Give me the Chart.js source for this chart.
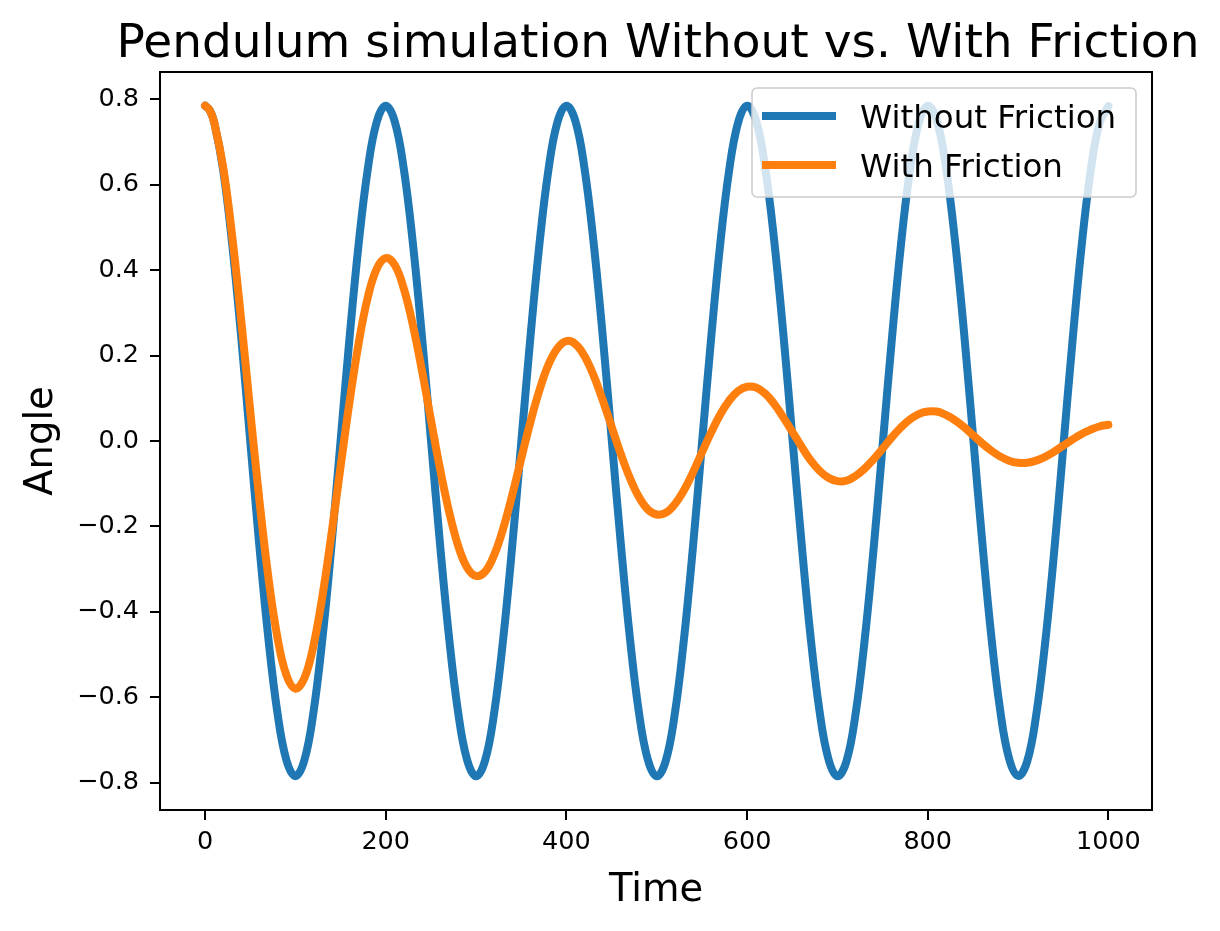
<!DOCTYPE html>
<html>
<head>
<meta charset="utf-8">
<script src="https://cdn.jsdelivr.net/npm/chart.js@4.4.1/dist/chart.umd.min.js"></script>
<style>
    html, body { margin: 0; padding: 0; background: #fff; }
    #wrap { width: 1220px; height: 931px; }
</style>
</head>
<body>
<div id="wrap"><canvas id="pendulum-chart"></canvas></div>
<script>
const chartTitle = 'Pendulum simulation Without vs. With Friction';
const xLabel = 'Time';
const yLabel = 'Angle';
const seriesNames = ['Without Friction', 'With Friction'];
const seriesColors = ['#1f77b4', '#ff7f0e'];

const xTicks = [0, 200, 400, 600, 800, 1000];
const yTicks = [-0.8, -0.6, -0.4, -0.2, 0.0, 0.2, 0.4, 0.6, 0.8];

const timeSteps = [
    0, 5, 10, 20, 30, 40, 50, 60, 70, 80, 90,
    100, 110, 120, 130, 140, 150, 160, 170, 180, 190,
    200, 210, 220, 230, 240, 250, 260, 270, 280, 290,
    300, 310, 320, 330, 340, 350, 360, 370, 380, 390,
    400, 410, 420, 430, 440, 450, 460, 470, 480, 490,
    500, 510, 520, 530, 540, 550, 560, 570, 580, 590,
    600, 610, 620, 630, 640, 650, 660, 670, 680, 690,
    700, 710, 720, 730, 740, 750, 760, 770, 780, 790,
    800, 810, 820, 830, 840, 850, 860, 870, 880, 890,
    900, 910, 920, 930, 940, 950, 960, 970, 980, 990,
    1000
];

const withoutFriction = [
    0.785, 0.775, 0.747, 0.635, 0.461, 0.243, 0.000, -0.243, -0.461, -0.635, -0.747,
    -0.785, -0.747, -0.635, -0.461, -0.243, 0.000, 0.243, 0.461, 0.635, 0.747,
    0.785, 0.748, 0.637, 0.464, 0.247, 0.004, -0.239, -0.458, -0.633, -0.746,
    -0.785, -0.748, -0.637, -0.464, -0.247, -0.004, 0.239, 0.458, 0.633, 0.746,
    0.785, 0.749, 0.639, 0.467, 0.251, 0.008, -0.235, -0.455, -0.631, -0.745,
    -0.785, -0.749, -0.639, -0.467, -0.251, -0.008, 0.235, 0.455, 0.631, 0.745,
    0.785, 0.750, 0.641, 0.470, 0.255, 0.012, -0.231, -0.452, -0.629, -0.744,
    -0.785, -0.750, -0.641, -0.470, -0.255, -0.012, 0.231, 0.452, 0.629, 0.744,
    0.785, 0.751, 0.643, 0.473, 0.259, 0.016, -0.227, -0.449, -0.627, -0.743,
    -0.784, -0.751, -0.643, -0.473, -0.259, -0.016, 0.227, 0.449, 0.627, 0.743,
    0.784
];

const withFriction = [
    0.785, 0.775, 0.747, 0.641, 0.480, 0.283, 0.070, -0.136, -0.318, -0.459, -0.548,
    -0.580, -0.555, -0.479, -0.362, -0.217, -0.060, 0.093, 0.229, 0.335, 0.403,
    0.428, 0.412, 0.357, 0.272, 0.166, 0.050, -0.064, -0.164, -0.244, -0.296,
    -0.316, -0.306, -0.267, -0.205, -0.127, -0.041, 0.043, 0.118, 0.178, 0.217,
    0.234, 0.227, 0.199, 0.154, 0.097, 0.034, -0.029, -0.085, -0.130, -0.160,
    -0.172, -0.168, -0.148, -0.116, -0.074, -0.027, 0.019, 0.061, 0.094, 0.117,
    0.127, 0.125, 0.111, 0.087, 0.056, 0.022, -0.012, -0.044, -0.069, -0.086,
    -0.094, -0.093, -0.082, -0.065, -0.043, -0.018, 0.008, 0.031, 0.050, 0.063,
    0.069, 0.069, 0.061, 0.049, 0.033, 0.014, -0.005, -0.022, -0.036, -0.046,
    -0.051, -0.051, -0.046, -0.037, -0.025, -0.011, 0.003, 0.016, 0.026, 0.034,
    0.038
];

// spines, legend box and the texts matplotlib style
const decorations = {
    id: 'decorations',
    afterDatasetsDraw(chart) {
        const ctx = chart.ctx;
        const a = chart.chartArea;
        ctx.save();
        ctx.strokeStyle = '#000';
        ctx.lineWidth = 2;
        ctx.strokeRect(a.left, a.top, a.right - a.left, a.bottom - a.top);

        // legend
        const lx = 752, ly = 88, lw = 384, lh = 109;
        ctx.beginPath();
        ctx.roundRect(lx, ly, lw, lh, 5);
        ctx.fillStyle = 'rgba(255,255,255,0.8)';
        ctx.fill();
        ctx.strokeStyle = '#cccccc';
        ctx.lineWidth = 1.5;
        ctx.stroke();

        ctx.font = '32.5px "DejaVu Sans"';
        ctx.textAlign = 'left';
        ctx.textBaseline = 'alphabetic';
        seriesNames.forEach((name, i) => {
            const y = 116 + i * 49;
            ctx.beginPath();
            ctx.moveTo(762, y);
            ctx.lineTo(836, y);
            ctx.strokeStyle = seriesColors[i];
            ctx.lineWidth = 8;
            ctx.lineCap = 'butt';
            ctx.stroke();
            ctx.fillStyle = '#000';
            ctx.fillText(name, 860, y + 12);
        });
        ctx.restore();
    },
    afterDraw(chart) {
        const ctx = chart.ctx;
        const a = chart.chartArea;
        ctx.save();
        ctx.fillStyle = '#000';
        ctx.textAlign = 'center';
        ctx.textBaseline = 'alphabetic';

        ctx.font = '47px "DejaVu Sans"';
        ctx.fillText(chartTitle, (a.left + a.right) / 2 + 2, 57);

        ctx.font = '38.5px "DejaVu Sans"';
        ctx.fillText(xLabel, (a.left + a.right) / 2, 901);

        ctx.translate(52, (a.top + a.bottom) / 2);
        ctx.rotate(-Math.PI / 2);
        ctx.fillText(yLabel, 0, 0);
        ctx.restore();
    }
};

function tickFont() {
    return { family: 'DejaVu Sans', size: 25.5 };
}

const ctx = document.getElementById('pendulum-chart').getContext('2d');

new Chart(ctx, {
    type: 'line',
    data: {
        datasets: [
            {
                label: seriesNames[0],
                data: timeSteps.map((t, i) => ({ x: t, y: withoutFriction[i] })),
                borderColor: seriesColors[0],
                borderWidth: 8,
                order: 1
            },
            {
                label: seriesNames[1],
                data: timeSteps.map((t, i) => ({ x: t, y: withFriction[i] })),
                borderColor: seriesColors[1],
                borderWidth: 8,
                order: 0
            }
        ]
    },
    options: {
        responsive: true,
        maintainAspectRatio: false,
        animation: false,
        elements: {
            point: { radius: 0, hoverRadius: 0 },
            line: { tension: 0.4, borderCapStyle: 'round', borderJoinStyle: 'round', fill: false }
        },
        layout: {
            padding: { top: 72, right: 68, left: 0, bottom: 0 }
        },
        plugins: {
            legend: { display: false },
            title: { display: false },
            tooltip: { enabled: false }
        },
        scales: {
            x: {
                type: 'linear',
                min: -49.9,
                max: 1048.3,
                afterBuildTicks: (scale) => {
                    scale.ticks = xTicks.map(v => ({ value: v }));
                },
                afterFit: (scale) => {
                    scale.height = 121;
                },
                ticks: {
                    font: tickFont(),
                    color: '#000',
                    padding: 7,
                    maxRotation: 0,
                    autoSkip: false,
                    callback: (value) => String(value)
                },
                grid: {
                    drawOnChartArea: false,
                    drawTicks: true,
                    tickLength: 10,
                    color: '#000',
                    lineWidth: 2
                },
                border: { display: false }
            },
            y: {
                type: 'linear',
                min: -0.864,
                max: 0.864,
                afterBuildTicks: (scale) => {
                    scale.ticks = yTicks.map(v => ({ value: v }));
                },
                afterFit: (scale) => {
                    scale.width = 160;
                },
                ticks: {
                    font: tickFont(),
                    color: '#000',
                    padding: 11,
                    autoSkip: false,
                    callback: (value) => (value < -1e-9 ? '\u2212' : '') + Math.abs(value).toFixed(1)
                },
                grid: {
                    drawOnChartArea: false,
                    drawTicks: true,
                    tickLength: 10,
                    color: '#000',
                    lineWidth: 2
                },
                border: { display: false }
            }
        }
    },
    plugins: [decorations]
});
</script>
</body>
</html>
